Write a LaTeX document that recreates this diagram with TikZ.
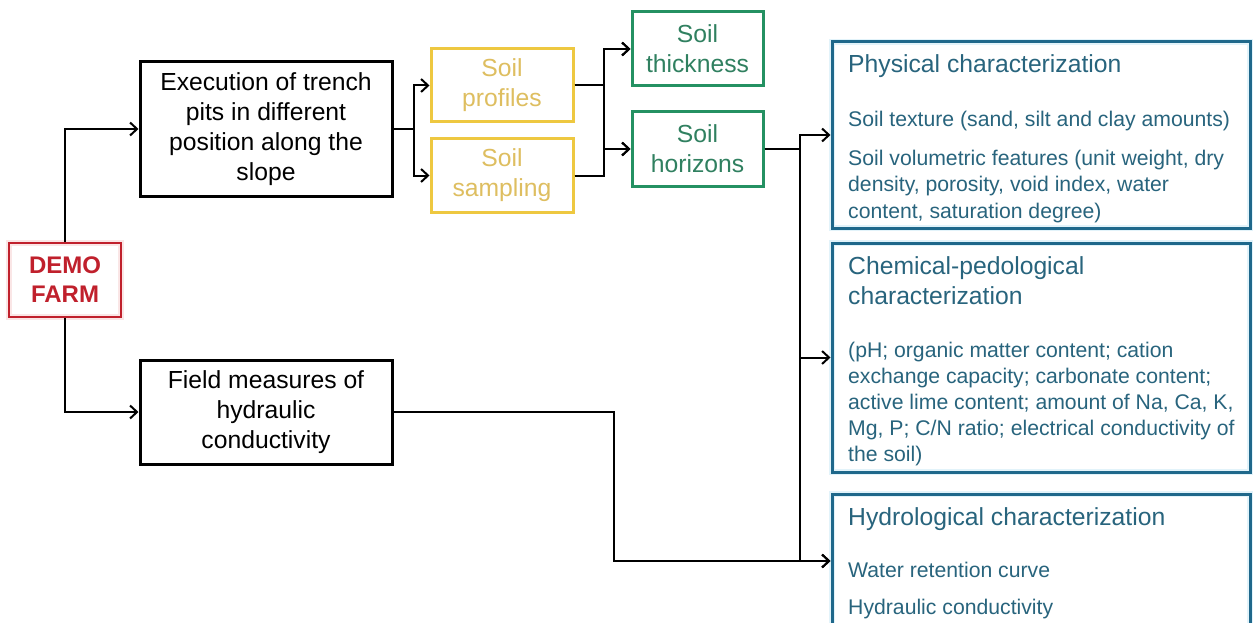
\documentclass[tikz,border=0pt]{standalone}
\usepackage{fontspec}
\setmainfont{Liberation Sans}
\usetikzlibrary{arrows.meta}
\definecolor{redc}{RGB}{192,32,44}
\definecolor{redhalo}{RGB}{250,230,230}
\definecolor{yelb}{RGB}{238,200,64}
\definecolor{yelt}{RGB}{222,190,96}
\definecolor{grnb}{RGB}{36,145,98}
\definecolor{grnt}{RGB}{48,128,96}
\definecolor{blub}{RGB}{31,104,139}
\definecolor{blut}{RGB}{40,100,125}
\definecolor{bluhalo}{RGB}{226,243,250}
\newcommand\myfmain{\fontsize{24.7}{29.8}\selectfont}
\newcommand\myfbody{\fontsize{21.2}{26.5}\selectfont}
\newcommand\myfdemo{\fontsize{24}{29}\selectfont\bfseries}
\begin{document}
\begin{tikzpicture}[x=1pt,y=-1pt,
  box/.style={draw, line width=3pt, inner sep=0pt, align=center, font=\myfmain},
  blkbox/.style={box, draw=black, text=black},
  yelbox/.style={box, draw=yelb, text=yelt},
  grnbox/.style={box, draw=grnb, text=grnt},
  blubox/.style={box, draw=blub, preaction={draw=bluhalo, line width=6pt}},
  redbox/.style={box, draw=redc, text=redc, font=\myfdemo, line width=2.5pt, preaction={draw=redhalo, line width=5.5pt}},
  hdr/.style={anchor=base west, inner sep=0pt, text=blut, font=\myfmain},
  bdy/.style={anchor=base west, inner sep=0pt, text=blut, font=\myfbody},
  conn/.style={line width=2pt, -{Straight Barb[length=7pt,width=13pt]}}]
\clip (0,0) rectangle (1253,623);
\fill[white] (0,0) rectangle (1253,623);

% nodes
\node[redbox, minimum width=112pt, minimum height=74pt] (demo) at (65,280) {DEMO\\FARM};
\node[blkbox, minimum width=252pt, minimum height=134pt] (exec) at (266,129) {Execution of trench\\pits in different\\position along the\\slope};
\node[blkbox, minimum width=252pt, minimum height=104pt] (field) at (266,412) {Field measures of\\hydraulic\\conductivity};
\node[yelbox, minimum width=142pt, minimum height=73pt] (prof) at (502,85.5) {Soil\\profiles};
\node[yelbox, minimum width=142pt, minimum height=73pt] (samp) at (502,175.5) {Soil\\sampling};
\node[grnbox, minimum width=131pt, minimum height=74pt] (thick) at (697.5,49) {Soil\\thickness};
\node[grnbox, minimum width=131pt, minimum height=74pt] (horiz) at (697.5,149) {Soil\\horizons};
\node[blubox, minimum width=418pt, minimum height=186pt] (phys) at (1041,135) {};
\node[blubox, minimum width=418pt, minimum height=229pt] (chem) at (1041,357.5) {};
\node[blubox, minimum width=418pt, minimum height=134pt] (hydro) at (1041,561) {};

% texts in blue boxes
\node[hdr] (p1) at (848,73) {Physical characterization};
\node[bdy] (p2) at (848,126.5) {Soil texture (sand, silt and clay amounts)};
\node[bdy] (p3) at (848,165) {Soil volumetric features (unit weight, dry};
\node[bdy] (p4) at (848,191.5) {density, porosity, void index, water};
\node[bdy] (p5) at (848,218) {content, saturation degree)};
\node[hdr] (c1) at (848,274) {Chemical-pedological};
\node[hdr] (c2) at (848,304) {characterization};
\node[bdy] (c3) at (848,357.5) {(pH; organic matter content; cation};
\node[bdy] (c4) at (848,383.5) {exchange capacity; carbonate content;};
\node[bdy] (c5) at (848,409.5) {active lime content; amount of Na, Ca, K,};
\node[bdy] (c6) at (848,435.5) {Mg, P; C/N ratio; electrical conductivity of};
\node[bdy] (c7) at (848,461) {the soil)};
\node[hdr] (h1) at (848,525) {Hydrological characterization};
\node[bdy] (h2) at (848,577) {Water retention curve};
\node[bdy] (h3) at (848,614.5) {Hydraulic conductivity};

% connectors
\draw[conn] (demo.north) |- (exec.west);
\draw[conn] (demo.south) |- (field.west);
\draw[conn] (exec.east) -- ++(20,0) |- (prof.west);
\draw[conn] (exec.east) -- ++(20,0) |- (samp.west);
\draw[conn] (prof.east) -- ++(29,0) |- (thick.west);
\draw[conn] (prof.east) -- ++(29,0) |- (horiz.west);
\draw[conn] (samp.east) -- ++(29,0) |- (thick.west);
\draw[conn] (samp.east) -- ++(29,0) |- (horiz.west);
\draw[conn] (horiz.east) -- ++(35,0) |- (phys.west);
\draw[conn] (horiz.east) -- ++(35,0) |- (chem.west);
\draw[conn] (horiz.east) -- ++(35,0) |- (hydro.west);
\draw[conn] (field.east) -- ++(220,0) |- (hydro.west);
\end{tikzpicture}
\end{document}
